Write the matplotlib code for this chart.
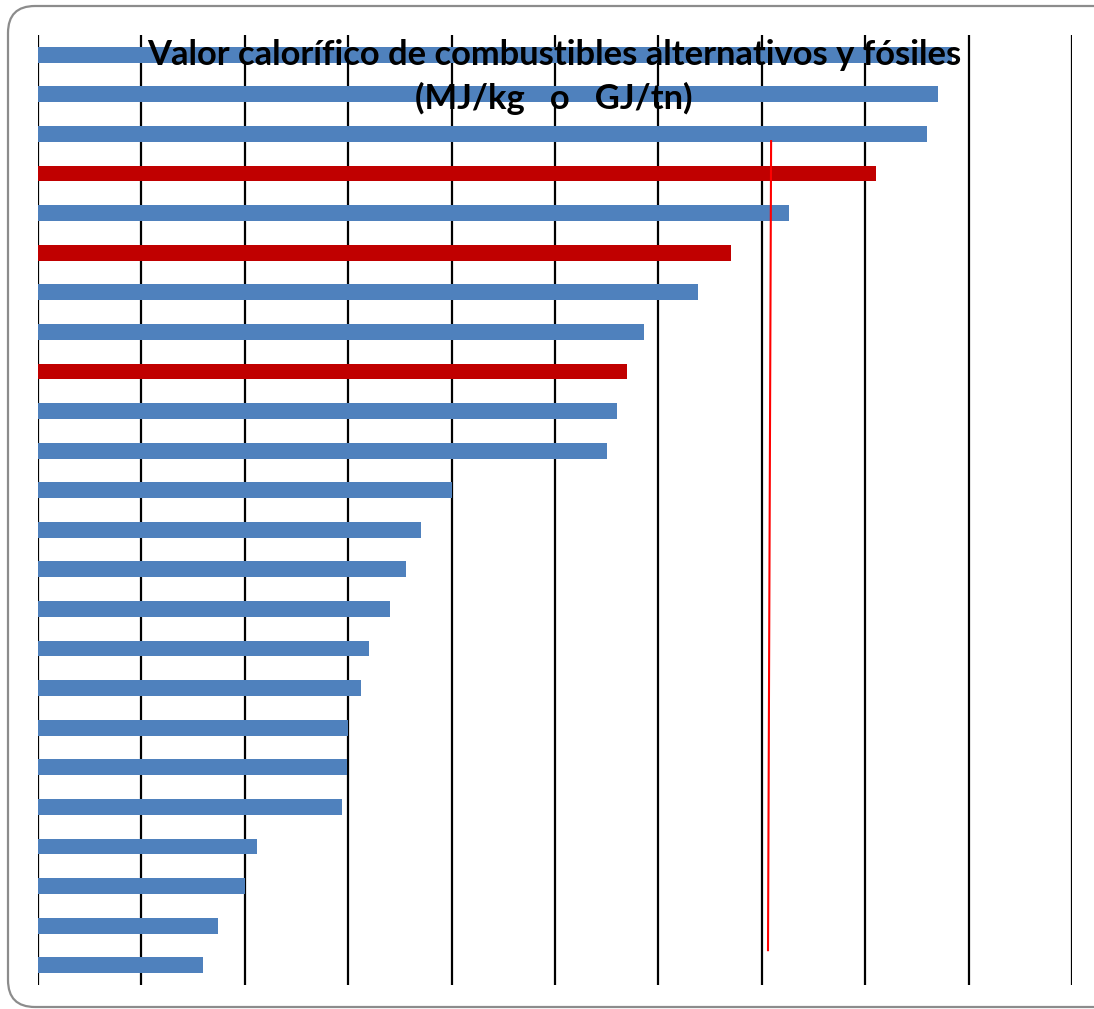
import numpy as np
import matplotlib.pyplot as plt
from matplotlib.patches import FancyBboxPatch

# Calorific values (MJ/kg), top bar first
valores = [44.2, 43.5, 43.0, 40.5, 36.3, 33.5, 31.9, 29.3, 28.5, 28.0, 27.5, 20.0,
           18.5, 17.8, 17.0, 16.0, 15.6, 15.0, 14.95, 14.7, 10.6, 10.0, 8.7, 8.0]
# bars shown in red
resaltado = [0, 0, 0, 1, 0, 1, 0, 0, 1, 0, 0, 0,
             0, 0, 0, 0, 0, 0, 0, 0, 0, 0, 0, 0]
# reference line (x values at its two ends, y in bar positions)
linea_x = [35.45, 35.3]
linea_y = [2.18, 22.62]

azul = '#4F81BD'
rojo = '#C00000'

W, H = 1094, 1009
fig = plt.figure(figsize=(W / 100, H / 100), dpi=100)

# rounded frame around the whole chart, in inches (runs off the right edge)
marco = FancyBboxPatch((0.08, (H - 1007) / 100), 11.3 - 0.08, 10.01,
                       boxstyle='round,pad=0,rounding_size=0.27',
                       transform=fig.dpi_scale_trans, fc='none', ec='#8c8c8c',
                       lw=1.6, zorder=-1)
fig.patches.append(marco)

ax = fig.add_axes([38 / W, 1 - 985 / H, (1072 - 38) / W, (985 - 35) / H])
ax.set_facecolor('none')

y = np.arange(len(valores))
colores = [rojo if r else azul for r in resaltado]
ax.barh(y, valores, height=0.4, color=colores, zorder=3)

for xv in np.arange(0, 55, 5):
    ax.axvline(xv, color='black', lw=1.6, zorder=1)

ax.plot(linea_x, linea_y, color='#FF0000', lw=1.5, zorder=4)

ax.set_xlim(0, 50)
ax.set_ylim(len(valores) - 0.5, -0.5)
ax.set_xticks([])
ax.set_yticks([])
for s in ax.spines.values():
    s.set_visible(False)

fig.text(554 / W, 1 - 77 / H,
         'Valor calorífico de combustibles alternativos y fósiles\n(MJ/kg   o   GJ/tn)',
         ha='center', va='center', fontsize=24.8, fontweight='bold',
         family='Lato', linespacing=1.38, zorder=10)

fig.savefig('out.png', dpi=100)
